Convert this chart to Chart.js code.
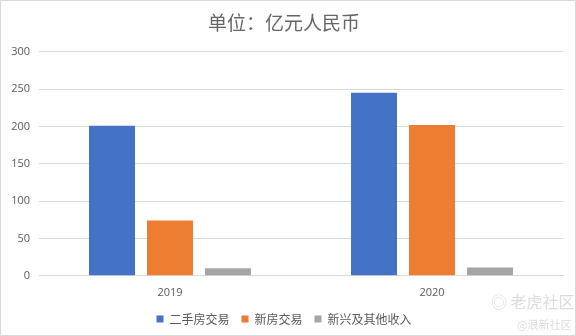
<!DOCTYPE html>
<html><head><meta charset="utf-8">
<script src="https://cdn.jsdelivr.net/npm/chart.js@4/dist/chart.umd.min.js"></script>
<style>
html,body{margin:0;padding:0;background:#fff;}
#wrap{position:relative;width:576px;height:336px;box-sizing:border-box;border:1px solid #d9d9d9;}
canvas{position:absolute;left:0;top:0;}
.wm{position:absolute;color:#dcdcdc;font-family:"Noto Sans CJK SC",sans-serif;white-space:nowrap;}
</style></head>
<body>
<div id="wrap"><canvas id="c" width="576" height="336"></canvas>
<div class="wm" style="left:490px;top:288px;font-size:16px;">◎ 老虎社区</div>
<div class="wm" style="left:516px;top:315px;font-size:11px;">@浪新社区</div>
</div>
<script>
const categories = ["2019", "2020"];
const seriesNames = ["二手房交易", "新房交易", "新兴及其他收入"];
const secondHand = [201, 245];
const newHome = [74, 202];
const otherIncome = [10, 11];
const yTicks = [0, 50, 100, 150, 200, 250, 300];
const colors = ["#4472C4", "#ED7D31", "#A5A5A5"];

const cjk = '"Noto Sans CJK SC", sans-serif';
new Chart(document.getElementById('c'), {
  type: 'bar',
  data: {
    labels: categories,
    datasets: [
      {label: seriesNames[0], data: secondHand, backgroundColor: colors[0]},
      {label: seriesNames[1], data: newHome, backgroundColor: colors[1]},
      {label: seriesNames[2], data: otherIncome, backgroundColor: colors[2]}
    ]
  },
  options: {
    responsive: false,
    animation: false,
    devicePixelRatio: 1,
    categoryPercentage: 0.664,
    barPercentage: 0.793,
    layout: {padding: {left: 4, right: 14, top: 8, bottom: 2}},
    plugins: {
      title: {display: true, text: '单位：亿元人民币', color: '#666666',
        font: {family: cjk, size: 19, weight: 'normal'}, padding: {top: 2, bottom: 18}},
      legend: {position: 'bottom', labels: {boxWidth: 7, boxHeight: 7, color: '#595959',
        font: {family: cjk, size: 12}, padding: 12}},
      tooltip: {enabled: false}
    },
    scales: {
      x: {
        grid: {display: false},
        border: {display: true, color: '#d9d9d9'},
        ticks: {color: '#595959', font: {family: '"Open Sans", sans-serif', size: 11}, padding: 2}
      },
      y: {
        min: 0, max: 300,
        afterBuildTicks: s => { s.ticks = yTicks.map(v => ({value: v})); },
        afterFit: s => { s.width = 34; },
        grid: {color: '#d9d9d9', drawTicks: false},
        border: {display: false},
        ticks: {color: '#595959', font: {family: '"Open Sans", sans-serif', size: 11}, padding: 9}
      }
    }
  }
});
</script>
</body></html>
